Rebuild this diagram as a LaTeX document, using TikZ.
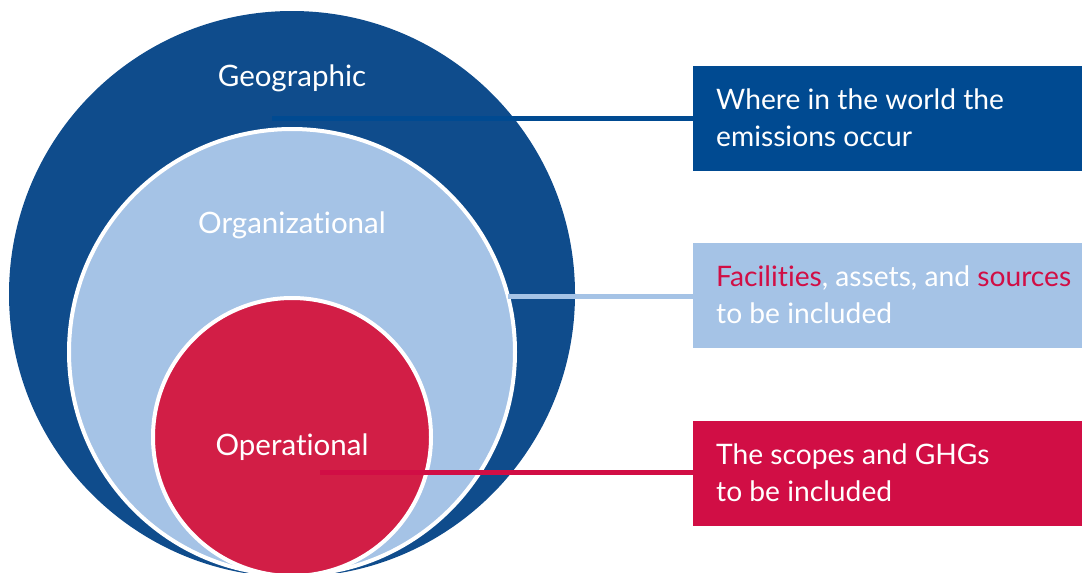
\documentclass[tikz,border=0pt]{standalone}
\usepackage{fontspec}
\setmainfont{Lato}[Ligatures=NoCommon]
\definecolor{geoblue}{HTML}{0F4C8C}
\definecolor{boxblue}{HTML}{004A91}
\definecolor{lightblue}{HTML}{A5C3E6}
\definecolor{opred}{HTML}{D21E46}
\definecolor{boxred}{HTML}{D10E45}
\begin{document}
\begin{tikzpicture}[x=1pt,y=-1pt,
  circlabel/.style={text=white,font=\fontsize{29.5}{34}\selectfont,anchor=base,inner sep=0pt},
  infobox/.style={anchor=north west,minimum width=389pt,minimum height=105pt,inner sep=0pt,draw=none},
  boxtext/.style={anchor=west,align=left,text=white,inner sep=0pt,font=\fontsize{28.2}{37.5}\selectfont},
  link/.style={line width=5pt}]
\useasboundingbox (0,0) rectangle (1082,573);
\clip (0,0) rectangle (1082,573);
% circles
\fill[geoblue] (292,294) circle[radius=283pt];
\node[circle,fill=lightblue,draw=white,line width=4pt,minimum size=446pt,inner sep=0pt] (org) at (292,352) {};
% boxes
\node[infobox,fill=boxblue] (b1) at (693,66) {};
\node[infobox,fill=lightblue] (b2) at (693,243) {};
\node[infobox,fill=boxred] (b3) at (693,421) {};
% link anchors
\coordinate (g1) at (272,118);
\coordinate (o1) at (508,296);
\coordinate (p1) at (320,472);
\draw[link,boxblue] (g1) -- (g1 -| b1.west);
\draw[link,lightblue] (o1) -- (o1 -| b2.west);
\node[circle,fill=opred,draw=white,line width=4pt,minimum size=278pt,inner sep=0pt] (op) at (292,437) {};
\draw[link,boxred] (p1) -- (p1 -| b3.west);
% circle labels
\node[circlabel] (lg) at (292,86) {Geographic};
\node[circlabel] (lo) at (292,233) {Organizational};
\node[circlabel] (lp) at (292,455) {Operational};
% box texts
\node[boxtext] (t1) at ([xshift=23pt,yshift=1pt]b1.west) {Where in the world the\\emissions occur};
\node[boxtext] (t2) at ([xshift=23pt,yshift=1pt]b2.west) {\textcolor{boxred}{Facilities}, assets, and \textcolor{boxred}{sources}\\to be included};
\node[boxtext] (t3) at ([xshift=23pt,yshift=1pt]b3.west) {The scopes and GHGs\\to be included};
\end{tikzpicture}
\end{document}
